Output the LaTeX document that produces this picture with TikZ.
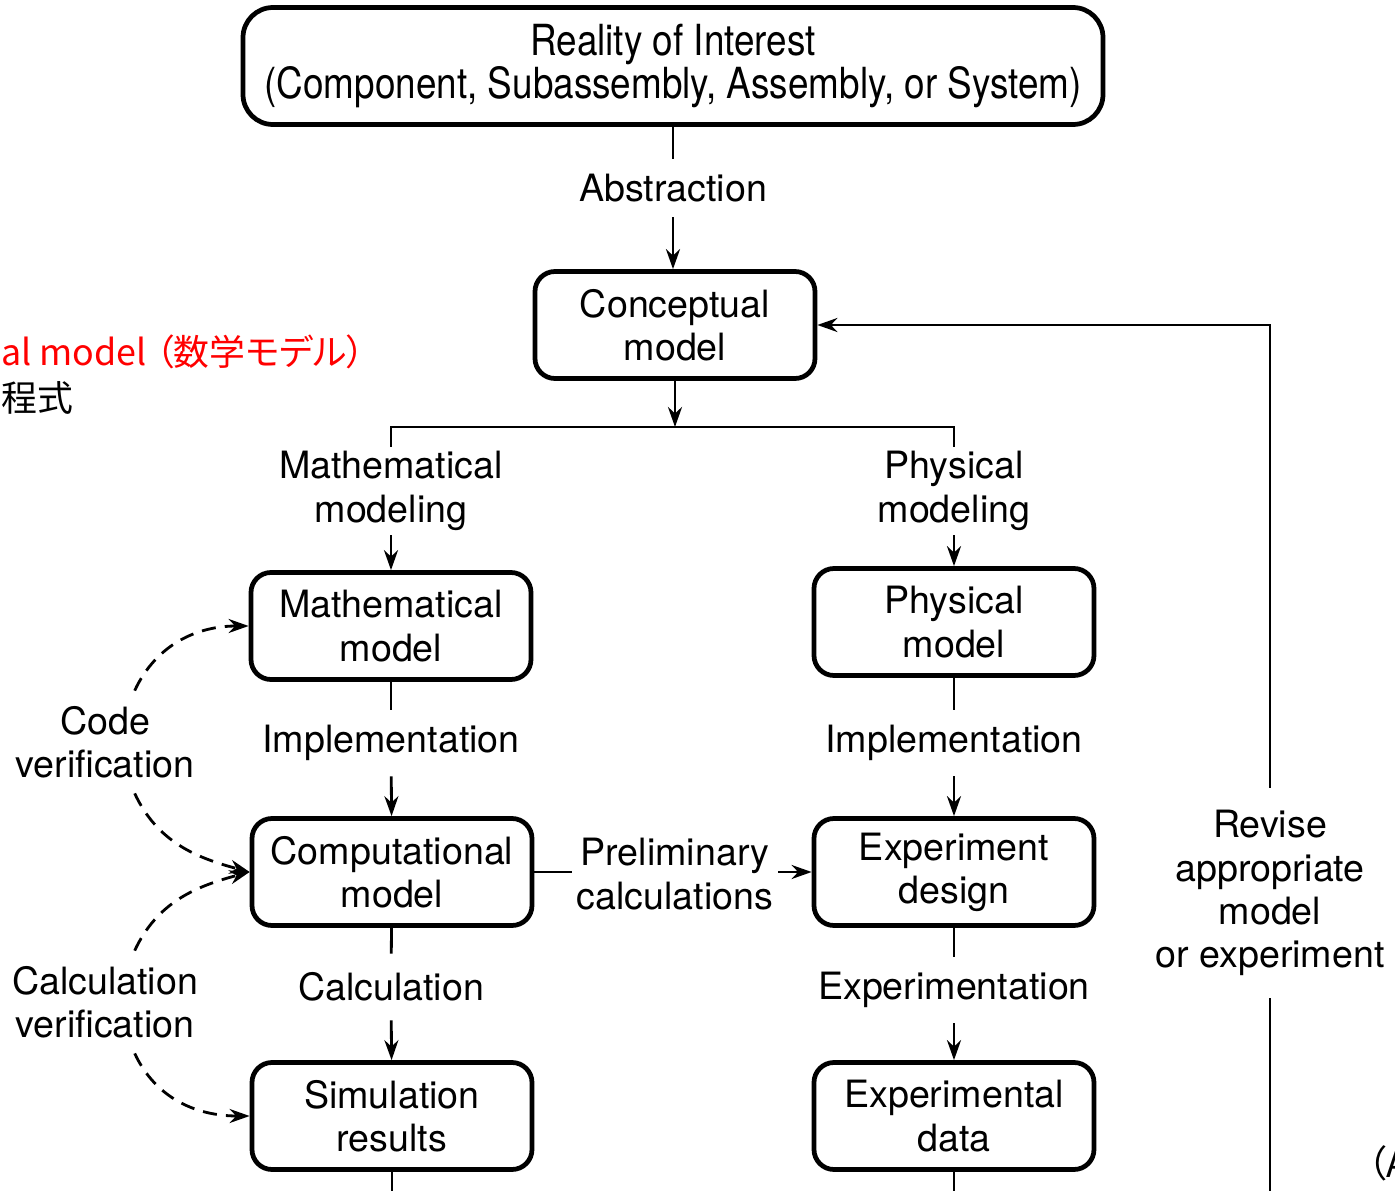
\documentclass[tikz,border=0pt]{standalone}
\usepackage{fontspec}
\setmainfont{TeX Gyre Heros}
\newfontfamily\condfont[FakeStretch=0.86]{TeX Gyre Heros}
\newfontfamily\jpfont[RawFeature=+palt]{Noto Sans CJK JP}
\usetikzlibrary{arrows.meta}

\tikzset{
  box/.style={draw, line width=1.35pt, rounded corners=2mm, minimum width=28mm,
    minimum height=10.7mm, align=center, inner sep=0pt},
  lbl/.style={align=center, inner xsep=2pt, inner ysep=4pt},
  arr/.style={-{Stealth[length=2mm,width=1.4mm]}},
  verif/.style={arr, dash pattern=on 4pt off 2.6pt},
  cut/.style={anchor=west, inner sep=0pt, font=\jpfont\fontsize{10.2}{12}\selectfont}
}

\begin{document}
\begin{tikzpicture}[x=0.1mm, y=-0.1mm, line width=0.8pt,
    font=\fontsize{10.7}{12.3}\selectfont]
	\useasboundingbox (0,0) rectangle (1395,1191);

	% top of the chart
	\node[box, minimum width=86mm, minimum height=11.7mm, rounded corners=3mm,
	  font=\condfont\fontsize{12.2}{12}\selectfont] (reality) at (673,66)
	  {Reality of Interest\\(Component, Subassembly, Assembly, or System)};
	\node[lbl] (abs) at (673,188) {Abstraction};
	\node[box] (concept) at (675,325) {Conceptual\\model};
	\coordinate (split) at (675,427);

	% left column
	\node[lbl, inner ysep=1pt] (mlbl) at (391,491) {Mathematical\\modeling};
	\node[box] (mathmod) at (391,626) {Mathematical\\model};
	\node[lbl] (mimpl) at (391,743) {Implementation};
	\node[box] (compmod) at (392,872) {Computational\\model};
	\node[lbl, inner ysep=5pt] (calc) at (391,987) {Calculation};
	\node[box] (simres) at (392,1116) {Simulation\\results};
	\coordinate (simend) at (392,1191);

	% right column
	\node[lbl, inner ysep=1pt] (plbl) at (954,491) {Physical\\modeling};
	\node[box] (physmod) at (954,622) {Physical\\model};
	\node[lbl] (pimpl) at (954,743) {Implementation};
	\node[box] (expdes) at (954,872) {Experiment\\design};
	\node[lbl] (expt) at (954,990) {Experimentation};
	\node[box] (expdata) at (954,1116) {Experimental\\data};
	\coordinate (dataend) at (954,1191);

	\node[lbl, inner xsep=1pt] (prelim) at (675,874) {Preliminary\\calculations};

	% feedback loop
	\node[lbl, inner ysep=6pt] (revise) at (1270,893)
	  {Revise\\appropriate\\model\\or experiment};
	\coordinate (revend) at (1270,1191);

	% verification labels
	\node[lbl] (codever) at (105,742) {Code\\verification};
	\node[lbl] (calcver) at (105,1002) {Calculation\\verification};

	% cut-off notes
	\node[cut, text=red] (rednote) at (0,352) {al model\hspace{0.25em}（数学モデル）};
	\node[cut] (jpnote) at (0,398) {程式};
	\node[cut, font=\jpfont\fontsize{10.6}{12}\selectfont] (edgenote) at (1366,1163) {（A};

	% connectors
	\draw (reality) -- (abs);
	\draw[arr] (abs) -- (abs |- concept.north);
	\draw[arr] (concept) -- (split);
	\draw (mlbl) |- (split) -| (plbl);
	\draw[arr] (mlbl) -- (mathmod);
	\draw (mathmod) -- (mimpl);
	\draw[arr] (mimpl) -- (compmod);
	\draw (compmod) -- (calc);
	\draw[arr] (calc) -- (simres);
	\draw (simres) -- (simend);
	\draw[arr] (plbl) -- (physmod);
	\draw (physmod) -- (pimpl);
	\draw[arr] (pimpl) -- (expdes);
	\draw (expdes) -- (expt);
	\draw[arr] (expt) -- (expdata);
	\draw (expdata) -- (dataend);
	\draw (compmod.east) -- (compmod.east -| prelim.west);
	\draw[arr] (prelim.east |- expdes.west) -- (expdes.west);
	\draw (revend) -- (revise);
	\draw[arr] (revise) |- (concept);

	% dashed verification arrows
	\draw[verif] (codever.60) to[out=65, in=180] (mathmod.west);
	\draw[verif] (codever.-60) to[out=-65, in=165] (compmod.west);
	\draw[verif] (calcver.60) to[out=65, in=195] (compmod.west);
	\draw[verif] (calcver.-60) to[out=-65, in=180] (simres.west);
\end{tikzpicture}
\end{document}
